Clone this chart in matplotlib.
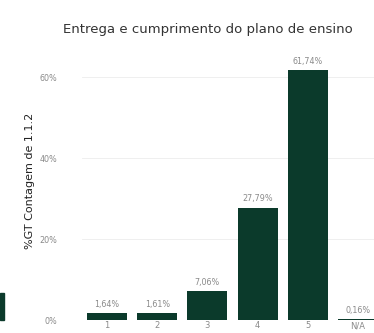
import matplotlib
matplotlib.use("Agg")
import matplotlib.pyplot as plt
from matplotlib.patches import Rectangle

categories = ["1", "2", "3", "4", "5", "N/A"]
shares = [1.64, 1.61, 7.06, 27.79, 61.74, 0.16]
value_labels = ["1,64%", "1,61%", "7,06%", "27,79%", "61,74%", "0,16%"]
y_ticks = [0, 20, 40, 60]
y_tick_labels = ["0%", "20%", "40%", "60%"]

W, H = 374, 333
fig = plt.figure(figsize=(W / 100, H / 100), dpi=100)
fig.patch.set_facecolor("white")

# plot area in pixel terms
left, right, bottom_px, top_px = 82, 374, 320, 57
ax = fig.add_axes([left / W, (H - bottom_px) / H, (right - left) / W, (bottom_px - top_px) / H])

bar_color = "#0b3a2b"
x = list(range(len(categories)))
ax.bar(x, shares, width=0.8, color=bar_color, zorder=3)

for xi, v, lab in zip(x, shares, value_labels):
    ax.annotate(lab, (xi, v), xytext=(0, 3), textcoords="offset points",
                ha="center", va="bottom", fontsize=5.8, color="#8a8a8a", clip_on=False)

ax.set_xlim(-0.5, 5.32)
ax.set_ylim(0, 65)
ax.set_xticks(x)
ax.set_xticklabels(categories, fontsize=6, color="#8a8a8a")
ax.set_yticks(y_ticks)
ax.set_yticklabels(y_tick_labels, fontsize=5.8, color="#8a8a8a")
ax.tick_params(axis="both", length=0)
ax.tick_params(axis="x", pad=1)
ax.tick_params(axis="y", pad=18)

ax.grid(axis="y", color="#ececec", linewidth=0.6, zorder=0)
for s in ax.spines.values():
    s.set_visible(False)

ax.set_ylabel("%GT Contagem de 1.1.2", fontsize=8, color="#222222", labelpad=4)
ax.yaxis.set_label_coords(-0.16, 0.53)

fig.text(208 / W, 1 - 30 / H, "Entrega e cumprimento do plano de ensino",
         ha="center", va="center", fontsize=9.5, color="#333333")

# edge of a neighbouring element on the left border
fig.patches.append(Rectangle((0, (H - 320) / H), 4 / W, 27 / H,
                             transform=fig.transFigure, color=bar_color))

fig.savefig("out.png", dpi=100, facecolor="white")
